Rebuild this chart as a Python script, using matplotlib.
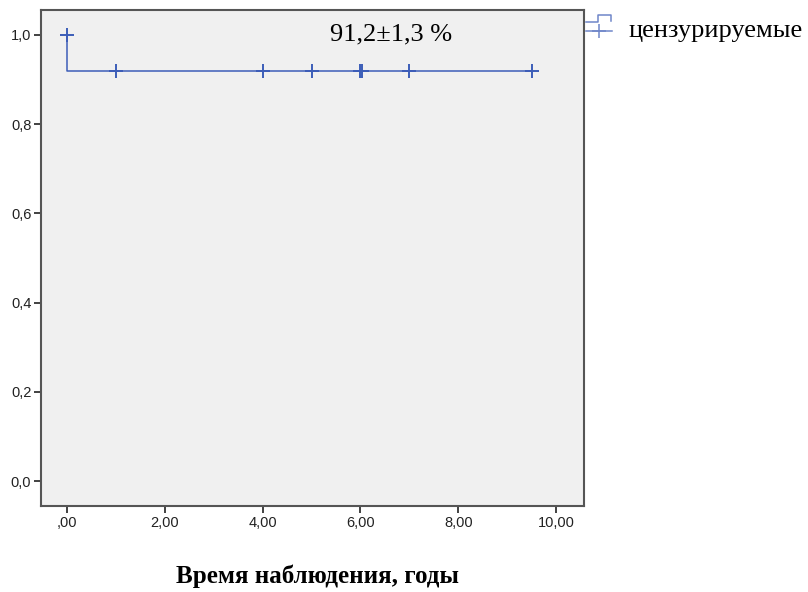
import matplotlib
matplotlib.use("Agg")
import matplotlib.pyplot as plt
from matplotlib.lines import Line2D

# Data
step_times = [0.0, 0.0, 9.5]
step_surv = [1.0, 0.92, 0.92]
censor_times = [0.0, 1.0, 4.0, 5.0, 6.0, 6.03, 7.0, 9.5]
censor_surv = [1.0, 0.92, 0.92, 0.92, 0.92, 0.92, 0.92, 0.92]
xticks = [0, 2, 4, 6, 8, 10]
xtick_labels = [",00", "2,00", "4,00", "6,00", "8,00", "10,00"]
yticks = [0.0, 0.2, 0.4, 0.6, 0.8, 1.0]
ytick_labels = ["0,0", "0,2", "0,4", "0,6", "0,8", "1,0"]
annotation = "91,2±1,3 %"
legend_label = "цензурируемые"
xlabel = "Время наблюдения, годы"

W, H = 808, 592
fig = plt.figure(figsize=(W / 100, H / 100), dpi=100)
left, right, top, bottom = 41, 584, 10, 506
ax = fig.add_axes([left / W, 1 - bottom / H, (right - left) / W, (bottom - top) / H])
ax.set_facecolor("#F0F0F0")

color = "#3C5DB8"
ax.step(step_times, step_surv, where="post", color=color, lw=1.1)
ax.plot(censor_times, censor_surv, linestyle="none", marker="+", markersize=10,
        markeredgewidth=1.4, color=color)

ax.set_xlim(-0.53, 10.57)
ax.set_ylim(-0.056, 1.056)
ax.set_xticks(xticks)
ax.set_xticklabels(xtick_labels, family="Liberation Sans", fontsize=10.5, color="#222222")
ax.set_yticks(yticks)
ax.set_yticklabels(ytick_labels, family="Liberation Sans", fontsize=10.5, color="#222222")
ax.tick_params(direction="out", length=5, width=1.3, color="#333333", pad=2)
for s in ax.spines.values():
    s.set_color("#555555")
    s.set_linewidth(1.5)

ax.text(0.645, 0.972, annotation, transform=ax.transAxes, ha="center", va="top",
        family="Liberation Serif", fontsize=19)

fig.text((175 + 460) / 2 / W, 1 - 576 / H, xlabel, ha="center", va="center",
         family="Liberation Serif", fontsize=18, fontweight="bold")

# legend drawn manually: step symbol + censor symbol + label
tf = fig.transFigure
lc = "#6F86C9"
fig.lines.append(Line2D([586 / W, 598 / W, 598 / W, 611 / W, 611 / W],
                        [1 - 22 / H, 1 - 22 / H, 1 - 15 / H, 1 - 15 / H, 1 - 21 / H],
                        transform=tf, color=lc, lw=1.1))
fig.lines.append(Line2D([586 / W, 612 / W], [1 - 31 / H, 1 - 31 / H],
                        transform=tf, color=lc, lw=1.1))
fig.lines.append(Line2D([599 / W], [1 - 31 / H], transform=tf, color=lc,
                        marker="+", markersize=10, markeredgewidth=1.1, linestyle="none"))
fig.text(628 / W, 1 - 31 / H, legend_label, ha="left", va="center",
         family="Liberation Serif", fontsize=19)

fig.savefig("out.png", dpi=100)
